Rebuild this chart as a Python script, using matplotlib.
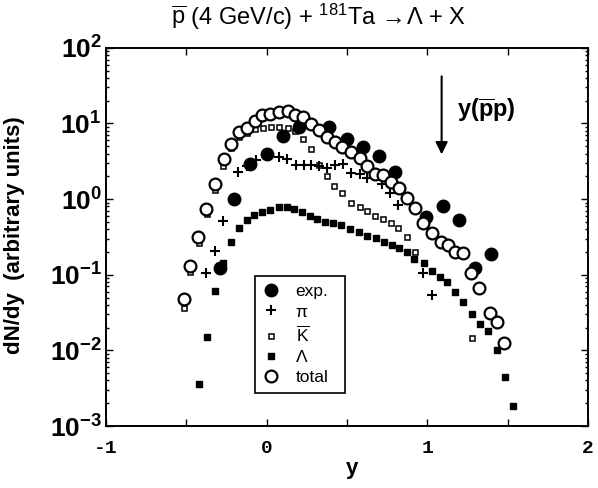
import matplotlib
matplotlib.use('Agg')
import matplotlib.pyplot as plt
from matplotlib.ticker import LogLocator, NullFormatter

plt.rcParams['mathtext.fontset'] = 'custom'
plt.rcParams['mathtext.rm'] = 'Liberation Sans'
plt.rcParams['mathtext.it'] = 'Liberation Sans:italic'
plt.rcParams['mathtext.bf'] = 'Liberation Sans:bold'
plt.rcParams['mathtext.sf'] = 'Liberation Sans'
plt.rcParams['font.family'] = ['Liberation Sans', 'DejaVu Sans']

# ---- data ----
exp_x = [-0.29, -0.20, -0.10, 0.00, 0.10, 0.20, 0.39, 0.50, 0.60, 0.70, 0.80,
         0.99, 1.10, 1.20, 1.30, 1.40]
exp_y = [0.122, 1.01, 2.90, 3.99, 6.77, 8.96, 9.02, 6.29, 4.95, 3.73, 2.31,
         0.573, 0.813, 0.526, 0.124, 0.190]

pi_x = [-0.375, -0.32, -0.27, -0.175, -0.123, -0.067, 0.006, 0.078, 0.129, 0.182,
        0.232, 0.276, 0.327, 0.375, 0.427, 0.473, 0.528, 0.581, 0.628, 0.721,
        0.767, 0.819, 0.976, 1.033]
pi_y = [0.104, 0.208, 0.518, 2.26, 2.71, 3.30, 4.05, 3.65, 3.38, 2.79,
        2.83, 2.83, 2.75, 2.56, 2.83, 2.88, 2.20, 2.17, 1.89, 1.56,
        1.20, 0.838, 0.105, 0.054]

kbar_x = [-0.515, -0.474, -0.423, -0.370, -0.320, -0.270, -0.222, -0.171, -0.123,
          -0.072, -0.023, 0.027, 0.078, 0.131, 0.180, 0.229, 0.278, 0.327, 0.374,
          0.421, 0.470, 0.526, 0.579, 0.628, 0.677, 0.728, 0.776, 0.821, 0.873,
          0.922, 1.276]
kbar_y = [0.036, 0.110, 0.266, 0.631, 1.32, 2.75, 4.71, 6.71, 7.51,
          8.54, 8.80, 9.02, 9.02, 8.66, 8.03, 6.20, 4.53, 2.79, 1.99,
          1.50, 1.22, 0.893, 0.796, 0.698, 0.600, 0.544, 0.488, 0.420, 0.319,
          0.202, 0.0145]

lam_x = [-0.423, -0.373, -0.320, -0.269, -0.218, -0.171, -0.124, -0.077, -0.027,
         0.022, 0.078, 0.129, 0.170, 0.218, 0.269, 0.317, 0.363, 0.413, 0.464,
         0.518, 0.576, 0.628, 0.680, 0.732, 0.780, 0.825, 0.875, 0.918, 0.981,
         1.029, 1.077, 1.126, 1.176, 1.226, 1.276, 1.327, 1.381, 1.433, 1.483,
         1.533]
lam_y = [0.00363, 0.0150, 0.0616, 0.143, 0.272, 0.416, 0.536, 0.624, 0.684,
         0.727, 0.782, 0.782, 0.731, 0.671, 0.600, 0.547, 0.504, 0.480, 0.449,
         0.397, 0.365, 0.329, 0.304, 0.274, 0.248, 0.224, 0.202, 0.162, 0.142,
         0.112, 0.092, 0.081, 0.0589, 0.0434, 0.0303, 0.0221, 0.0182, 0.0101, 0.00449,
         0.00182]

tot_x = [-0.515, -0.474, -0.426, -0.375, -0.319, -0.266, -0.218, -0.171, -0.123,
         -0.073, -0.027, 0.022, 0.078, 0.131, 0.178, 0.228, 0.276, 0.327, 0.375,
         0.424, 0.472, 0.525, 0.579, 0.626, 0.674, 0.726, 0.773, 0.825, 0.873,
         0.923, 0.974, 1.033, 1.085, 1.128, 1.174, 1.223, 1.271, 1.325, 1.390,
         1.437, 1.478]
tot_y = [0.0483, 0.132, 0.318, 0.735, 1.57, 3.37, 5.32, 7.74, 8.83,
         10.9, 12.9, 13.5, 14.2, 14.7, 13.1, 12.2, 9.73, 8.23, 6.65,
         5.71, 4.83, 4.25, 3.47, 2.75, 2.15, 2.09, 1.70, 1.42, 1.05,
         0.758, 0.480, 0.354, 0.274, 0.244, 0.202, 0.196, 0.105, 0.0663, 0.031,
         0.024, 0.0124]

legend_labels = ['exp.', 'π', r'$\overline{\mathrm{K}}$', 'Λ', 'total']
x_ticks = [-1, -0.5, 0, 0.5, 1, 1.5, 2]
x_tick_labels = ['-1', '', '0', '', '1', '', '2']
y_ticks = [1e-3, 1e-2, 1e-1, 1e0, 1e1, 1e2]
y_tick_labels = [r'$\mathbf{10^{-3}}$', r'$\mathbf{10^{-2}}$', r'$\mathbf{10^{-1}}$',
                 r'$\mathbf{10^{0}}$', r'$\mathbf{10^{1}}$', r'$\mathbf{10^{2}}$']
title = r'$\overline{\mathrm{p}}$ (4 GeV/c) + $^{181}$Ta$\,\rightarrow\!\Lambda$ + X'
arrow_x = 1.09
arrow_top = 42.0
arrow_tip = 3.9
arrow_label = r'$\mathbf{y(}\overline{\mathbf{p}}\mathbf{p)}$'

# ---- figure ----
fig = plt.figure(figsize=(5.98, 4.88), dpi=100)
ax = fig.add_axes([0.177, 0.127, 0.806, 0.775])

h_lam, = ax.plot(lam_x, lam_y, 's', ms=4.3, color='black', mec='black', zorder=2)
h_k, = ax.plot(kbar_x, kbar_y, 's', ms=3.6, mfc='white', mec='black', mew=1.1, zorder=3)
h_pi, = ax.plot(pi_x, pi_y, '+', ms=7, color='black', mew=1.5, zorder=3)
h_exp, = ax.plot(exp_x, exp_y, 'o', ms=9, color='black', zorder=4)
h_tot, = ax.plot(tot_x, tot_y, 'o', ms=8.5, mfc='white', mec='black', mew=1.6, zorder=5)

ax.set_yscale('log')
ax.set_xlim(-1, 2)
ax.set_ylim(1e-3, 1e2)

ax.set_xticks(x_ticks)
ax.set_xticklabels(x_tick_labels, fontfamily='Liberation Mono', fontweight='bold', fontsize=14)
ax.set_yticks(y_ticks)
ax.set_yticklabels(y_tick_labels, fontsize=19)
ax.yaxis.set_minor_locator(LogLocator(base=10, subs=range(2, 10), numticks=20))
ax.yaxis.set_minor_formatter(NullFormatter())
ax.tick_params(which='both', direction='in', top=True, right=True, width=1)
ax.tick_params(which='major', length=5)
ax.tick_params(which='minor', length=2.5)
ax.tick_params(axis='x', pad=10)
ax.tick_params(axis='y', pad=3)
for s in ax.spines.values():
    s.set_linewidth(1.4)

ax.set_xlabel('y', fontsize=16, fontweight='bold')
ax.xaxis.set_label_coords(0.51, -0.085)
ax.set_ylabel('dN/dy  (arbitrary units)', fontsize=16, fontweight='bold')
ax.yaxis.set_label_coords(-0.168, 0.505)

fig.text(0.532, 0.965, title, ha='center', va='center', fontsize=17)

ax.annotate('', xy=(arrow_x, arrow_tip), xytext=(arrow_x, arrow_top),
            arrowprops=dict(arrowstyle='-|>', color='black', lw=1.5, mutation_scale=18,
                            shrinkA=0, shrinkB=0))
ax.text(arrow_x + 0.095, 15.0, arrow_label, fontsize=17, ha='left', va='center')

leg = ax.legend([h_exp, h_pi, h_k, h_lam, h_tot], legend_labels,
                loc='lower left', bbox_to_anchor=(0.309, 0.087, 0.188, 0.334),
                mode='expand', borderaxespad=0, fontsize=12.5, numpoints=1,
                handlelength=1.0, handletextpad=0.9, labelspacing=0.3,
                borderpad=0.45, fancybox=False, framealpha=1, edgecolor='black')
leg.get_frame().set_linewidth(1.2)

fig.savefig('out.png', dpi=100)
